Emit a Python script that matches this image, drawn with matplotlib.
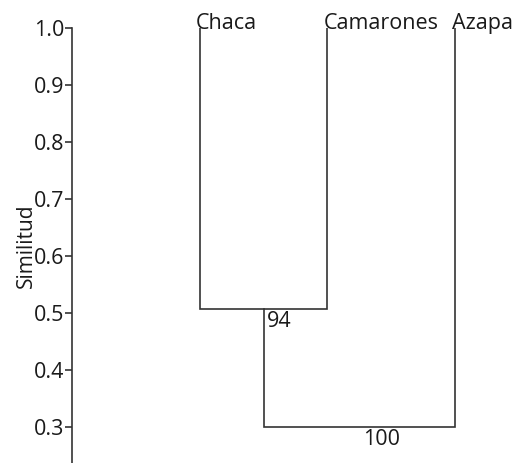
import numpy as np
import matplotlib.pyplot as plt

plt.rcParams['font.family'] = ['Open Sans', 'DejaVu Sans']

# leaves in plot order, then merges (left child, right child, similarity, bootstrap)
leaves = ['Chaca', 'Camarones', 'Azapa']
merge_left = [0, 3]
merge_right = [1, 2]
merge_height = [0.507, 0.30]
bootstrap = [94, 100]

y_ticks = [0.3, 0.4, 0.5, 0.6, 0.7, 0.8, 0.9, 1.0]

line_col = '#333333'
txt_col = '#1a1a1a'

fig = plt.figure(figsize=(5.14, 4.63), dpi=100)
ax = fig.add_axes([72 / 514, 0, (514 - 72) / 514, (463 - 28) / 463])

# node x positions / heights: leaves at 1..n, top at 1.0
xs = [i + 1 for i in range(len(leaves))]
hs = [1.0] * len(leaves)
for l, r, h, b in zip(merge_left, merge_right, merge_height, bootstrap):
    xl, xr = xs[l], xs[r]
    ax.plot([xl, xl, xr, xr], [hs[l], h, h, hs[r]], color=line_col, lw=1.2,
            solid_joinstyle='miter')
    xm = (xl + xr) / 2
    ax.annotate(str(b), (xm, h), xytext=(2.5, -1.5), textcoords='offset points',
                ha='left', va='top', fontsize=15.5, color=txt_col)
    xs.append(xm)
    hs.append(h)

for i, name in enumerate(leaves):
    ax.annotate(name, (xs[i], 1.0), xytext=(-2.5, -1), textcoords='offset points',
                ha='left', va='baseline', fontsize=15.5, color=txt_col,
                annotation_clip=False)

ax.set_xlim(0, (514 - 72) / 127.7)
ax.set_ylim(0.2368, 1.0)
ax.set_yticks(y_ticks)
ax.set_yticklabels([f'{v:.1f}' for v in y_ticks])
ax.tick_params(axis='y', direction='out', length=5, width=1.2, color=line_col,
               labelsize=15.5, labelcolor=txt_col, pad=0.3)
ax.set_xticks([])
for s in ['top', 'right', 'bottom']:
    ax.spines[s].set_visible(False)
ax.spines['left'].set_color(line_col)
ax.spines['left'].set_linewidth(1.2)
ax.set_ylabel('Similitud', fontsize=15, color=txt_col, labelpad=-2)

fig.savefig('out.png', dpi=100)
